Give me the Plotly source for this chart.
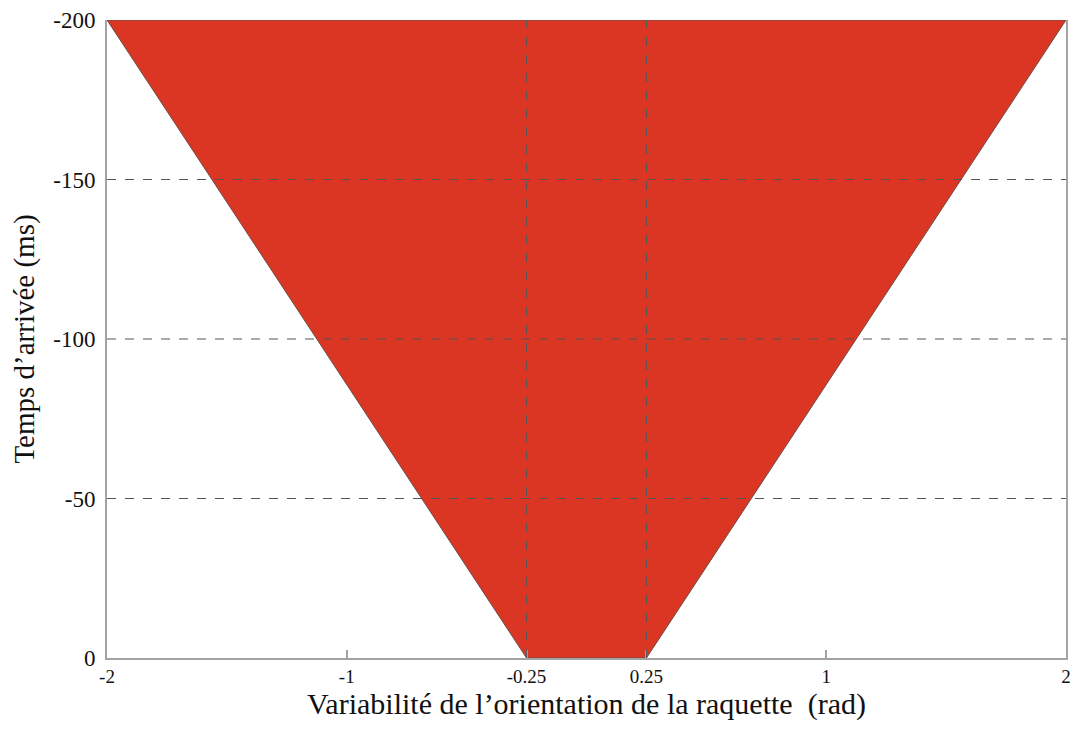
import plotly.graph_objects as go

#trapezoid of allowed orientation variability vs arrival time
zone_x = [-0.25, 0.25, 2, -2]
zone_y = [0, 0, -200, -200]

x_ticks = [-2, -1, -0.25, 0.25, 1, 2]
x_ticktext = ["-2", "-1", "-0.25", "0.25", "1", "2"]
y_ticks = [-200, -150, -100, -50, 0]
y_ticktext = ["-200", "-150", "-100", "-50", "0"]

#dashed reference lines
x_guides = [-0.25, 0.25]
y_guides = [-150, -100, -50]

FONT = "Liberation Serif, Times New Roman, serif"
AXIS_GREY = "#a3a3a3"

fig = go.Figure()

fig.add_trace(go.Scatter(
    x=zone_x + [zone_x[0]],
    y=zone_y + [zone_y[0]],
    mode="lines",
    fill="toself",
    fillcolor="#da3623",
    line=dict(color="#6e4b45", width=1),
    hoverinfo="skip",
    showlegend=False,
))

for gx in x_guides:
    fig.add_vline(x=gx, line=dict(color="#555555", width=1, dash="dash"), layer="above")
for gy in y_guides:
    fig.add_hline(y=gy, line=dict(color="#555555", width=1, dash="dash"), layer="above")

fig.update_layout(
    width=1073,
    height=738,
    paper_bgcolor="white",
    plot_bgcolor="white",
    margin=dict(l=107, r=7, t=20, b=80),
    font=dict(family=FONT, color="#111111", size=18),
    xaxis=dict(
        range=[-2, 2],
        tickvals=x_ticks,
        ticktext=x_ticktext,
        ticks="inside",
        ticklen=8,
        tickcolor=AXIS_GREY,
        tickwidth=2,
        showgrid=False,
        zeroline=False,
        showline=True,
        linecolor=AXIS_GREY,
        linewidth=2,
        tickfont=dict(size=19),
        ticklabeloverflow="allow",
        automargin=False,
        title=dict(text="Variabilité de l’orientation de la raquette \u00a0(rad)",
                   font=dict(size=30), standoff=4),
    ),
    yaxis=dict(
        range=[0, -200],
        tickvals=y_ticks,
        ticktext=y_ticktext,
        ticks="",
        showgrid=False,
        zeroline=False,
        showline=True,
        mirror=True,
        linecolor=AXIS_GREY,
        linewidth=2,
        tickfont=dict(size=23),
        ticklabelstandoff=5,
        ticklabeloverflow="allow",
        automargin=False,
        title=dict(text="Temps d’arrivée (ms)", font=dict(size=29), standoff=10),
    ),
)

#drop the default body margin so the figure fills the window exactly
fig.write_html(
    "out.html",
    config={"displayModeBar": False},
    post_script="document.body.style.margin='0';",
)
